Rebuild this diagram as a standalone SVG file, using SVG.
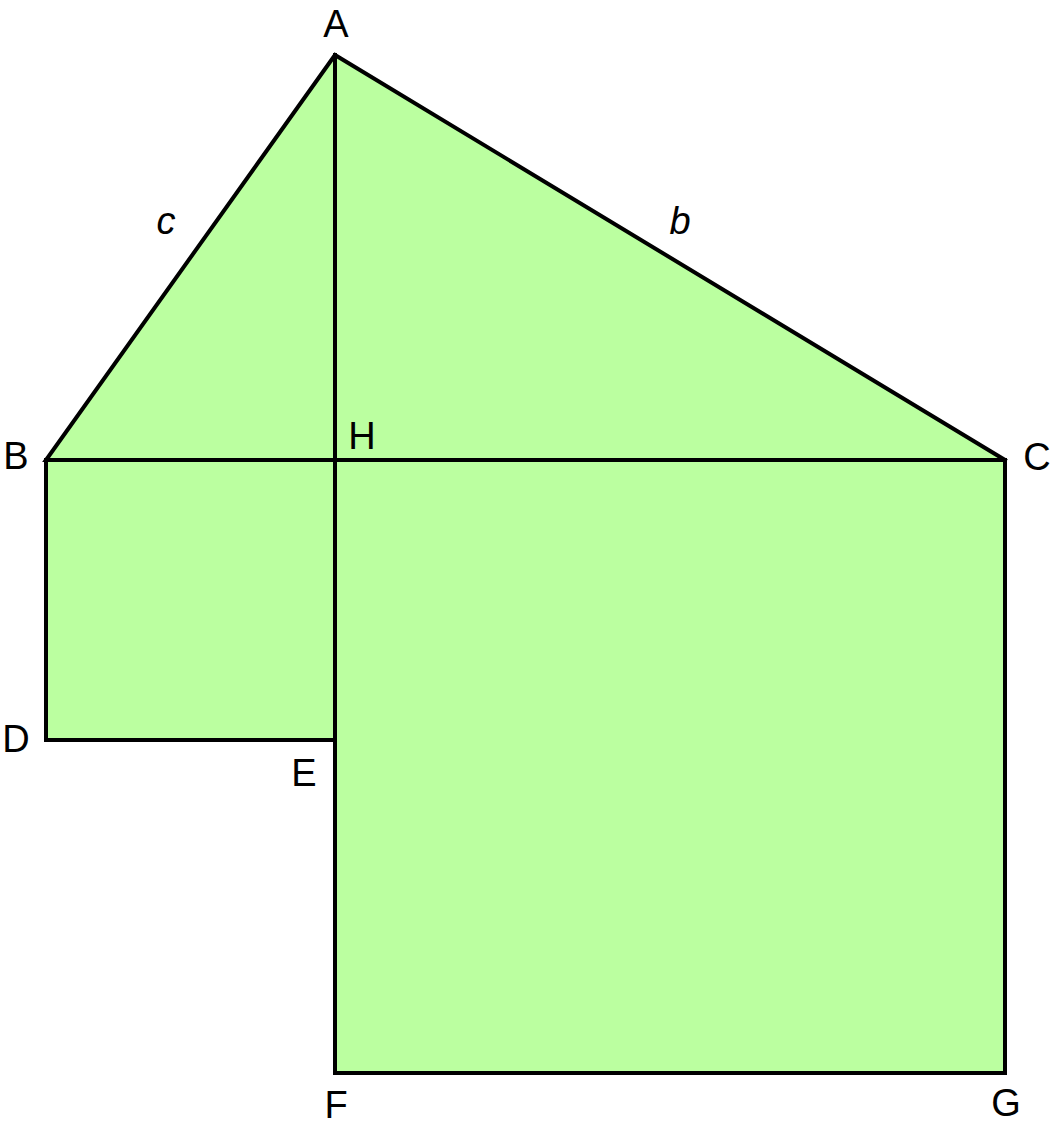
<svg xmlns="http://www.w3.org/2000/svg" width="1053" height="1133" viewBox="0 0 1053 1133">
<style>
.ln{stroke:#000;stroke-width:4;fill:none;stroke-linejoin:miter;stroke-linecap:square}
.lb{font-family:"Liberation Sans",Arial,sans-serif;font-size:38px;fill:#000;text-anchor:middle}
.it{font-style:italic}
</style>
<rect width="1053" height="1133" fill="#fff"/>
<g id="fill">
<polygon points="335,55 46,460 46,740 335,740 335,1073 1005,1073 1005,460" fill="#bbffa0"/>
</g>
<g id="connectors">
<polyline class="ln" points="1005,460 335,55 46,460 1005,460 1005,1073 335,1073 335,55"/>
<polyline class="ln" points="46,460 46,740 335,740"/>
</g>
<g id="labels">
<text id="A" class="lb" x="336" y="37">A</text>
<text id="B" class="lb" x="16" y="469">B</text>
<text id="H" class="lb" x="362" y="449">H</text>
<text id="C" class="lb" x="1037" y="470">C</text>
<text id="D" class="lb" x="16" y="752">D</text>
<text id="E" class="lb" x="304" y="786">E</text>
<text id="F" class="lb" x="336" y="1118">F</text>
<text id="G" class="lb" x="1006" y="1116">G</text>
<text id="c" class="lb it" x="166" y="234">c</text>
<text id="b" class="lb it" x="680" y="234">b</text>
</g>
</svg>
